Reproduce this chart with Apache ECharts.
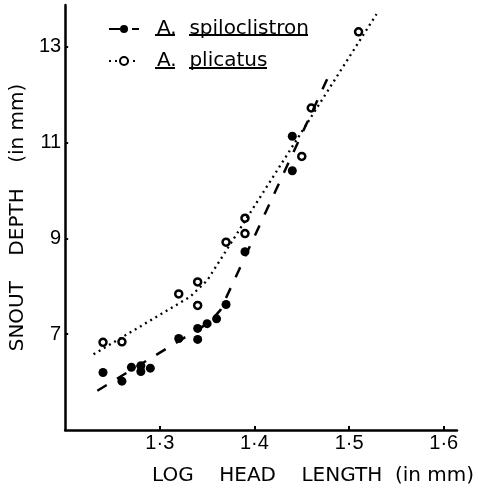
<!DOCTYPE html>
<html>
<head>
<meta charset="utf-8">
<script src="https://cdn.jsdelivr.net/npm/echarts@6/dist/echarts.min.js"></script>
<style>
  html, body { margin: 0; padding: 0; background: #fff; }
  #chart { width: 478px; height: 491px; }
</style>
</head>
<body>
<div id="chart"></div>
<script>
// measured points
var spiloX = [1.24, 1.26, 1.27, 1.28, 1.28, 1.29, 1.32, 1.34, 1.34, 1.35, 1.36, 1.37, 1.39, 1.44, 1.44];
var spiloY = [6.20, 6.02, 6.31, 6.34, 6.22, 6.29, 6.91, 7.12, 6.89, 7.22, 7.32, 7.62, 8.72, 11.13, 10.41];
var plicX = [1.24, 1.26, 1.32, 1.34, 1.34, 1.37, 1.39, 1.39, 1.45, 1.46, 1.51];
var plicY = [6.83, 6.84, 7.84, 8.09, 7.60, 8.92, 9.10, 9.42, 10.71, 11.72, 13.31];

// fitted lines (drawn by hand in the original)
var spiloFitX = [1.234, 1.352, 1.364, 1.481];
var spiloFitY = [5.82, 7.24, 7.50, 12.50];
var plicFitX = [1.230, 1.332, 1.350, 1.529];
var plicFitY = [6.58, 7.78, 8.12, 13.68];

var xTicks = [1.3, 1.4, 1.5, 1.6];
var xTickLabels = ['1·3', '1·4', '1·5', '1·6'];
var yTicks = [7, 9, 11, 13];
var yTickLabels = ['7', '9', '11', '13'];

var spiloName = 'A. spiloclistron';
var plicName = 'A. plicatus';

function pairs(xs, ys) {
  return xs.map(function (x, i) { return [x, ys[i]]; });
}

var titleFont = 'DejaVu Sans';
var tickFont = 'Liberation Sans';

// legend layout
var legLeft = 103, legTop = 14, legRow = 32;
var textLeft = 155;

var chart = echarts.init(document.getElementById('chart'));
chart.setOption({
  animation: false,
  backgroundColor: '#fff',
  grid: { left: 61, right: 21, top: 5, bottom: 59 },
  legend: {
    orient: 'vertical',
    left: legLeft,
    top: legTop,
    itemWidth: 30,
    itemHeight: 10,
    itemGap: legRow - 20,
    selectedMode: false,
    data: [spiloName, plicName],
    formatter: function (n) { return n.replace('. ', '.  '); },
    textStyle: {
      fontFamily: titleFont, fontSize: 20, color: '#000',
      padding: [0, 0, 0, textLeft - legLeft - 30 - 9]
    }
  },
  graphic: [
    // underlines under the species names
    { type: 'rect', shape: { x: textLeft, y: legTop + 20, width: 20, height: 2 }, style: { fill: '#000' } },
    { type: 'rect', shape: { x: textLeft + 34, y: legTop + 20, width: 119, height: 2 }, style: { fill: '#000' } },
    { type: 'rect', shape: { x: textLeft, y: legTop + 21 + legRow, width: 20, height: 2 }, style: { fill: '#000' } },
    { type: 'rect', shape: { x: textLeft + 34, y: legTop + 21 + legRow, width: 78, height: 2 }, style: { fill: '#000' } }
  ],
  xAxis: {
    type: 'value',
    min: 1.2,
    max: 1.614,
    name: 'LOG    HEAD    LENGTH  (in mm)',
    nameLocation: 'middle',
    nameGap: 36,
    nameTextStyle: { fontFamily: titleFont, fontSize: 20, color: '#000', padding: [0, 0, 0, 104] },
    axisLine: { lineStyle: { color: '#000', width: 2.5 } },
    axisTick: { inside: true, length: 4, customValues: xTicks, lineStyle: { color: '#000', width: 2 } },
    axisLabel: {
      customValues: xTicks,
      margin: 3,
      fontFamily: tickFont, fontSize: 20, color: '#000',
      formatter: function (v) { return xTickLabels[xTicks.indexOf(Math.round(v * 10) / 10)]; }
    },
    splitLine: { show: false }
  },
  yAxis: {
    type: 'value',
    min: 5,
    max: 13.87,
    name: 'SNOUT    DEPTH    (in mm)',
    nameLocation: 'middle',
    nameRotate: 90,
    nameGap: 32,
    nameTextStyle: { fontFamily: titleFont, fontSize: 20, color: '#000' },
    axisLine: { lineStyle: { color: '#000', width: 2.5 } },
    axisTick: { inside: true, length: 3, customValues: yTicks, lineStyle: { color: '#000', width: 2 } },
    axisLabel: {
      customValues: yTicks,
      margin: 4,
      fontFamily: tickFont, fontSize: 20, color: '#000',
      formatter: function (v) { return yTickLabels[yTicks.indexOf(Math.round(v))]; }
    },
    splitLine: { show: false }
  },
  series: [
    {
      name: spiloName,
      type: 'line',
      data: pairs(spiloFitX, spiloFitY),
      symbol: 'circle',
      showSymbol: false,
      itemStyle: { color: '#000' },
      lineStyle: { color: '#000', width: 2.5, type: [11, 12] },
      emphasis: { disabled: true },
      silent: true
    },
    {
      name: plicName,
      type: 'line',
      data: pairs(plicFitX, plicFitY),
      symbol: 'emptyCircle',
      showSymbol: false,
      itemStyle: { color: '#000' },
      lineStyle: { color: '#000', width: 2.3, type: [2, 4] },
      emphasis: { disabled: true },
      silent: true
    },
    {
      name: spiloName,
      type: 'scatter',
      data: pairs(spiloX, spiloY),
      symbol: 'circle',
      symbolSize: 9,
      itemStyle: { color: '#000', opacity: 1 },
      emphasis: { disabled: true }
    },
    {
      name: plicName,
      type: 'scatter',
      data: pairs(plicX, plicY),
      symbol: 'circle',
      symbolSize: 7,
      itemStyle: { color: '#fff', borderColor: '#000', borderWidth: 2.5, opacity: 1 },
      emphasis: { disabled: true }
    }
  ]
});
</script>
</body>
</html>
